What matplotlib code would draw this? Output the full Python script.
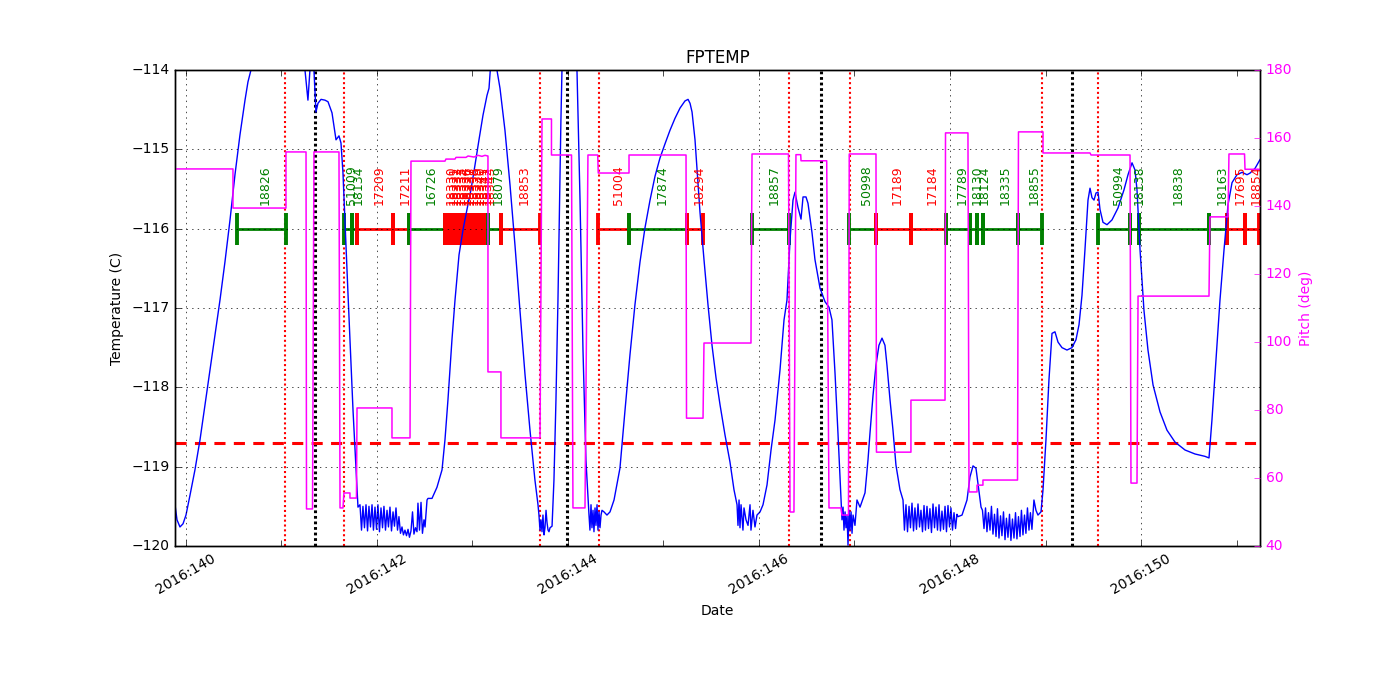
# plot.py
#
# FPTEMP model vs. time for 2016:140-151, with the pitch profile on a
# second axis and the observation schedule drawn as a bar of segments
# (green = nominal, red = flagged) with their obsids written above.

import matplotlib
matplotlib.use("Agg")
import matplotlib.pyplot as plt
import matplotlib.transforms as mtransforms
from matplotlib.ticker import FuncFormatter, MultipleLocator

plt.style.use("classic")
plt.rcParams["font.size"] = 10
plt.rcParams["font.family"] = ["DejaVu Sans"]

# --- FPTEMP (C) vs day of year 2016 in chunks --------------------------------
temp_first_pass = [
    (139.885, -119.48), (139.906, -119.67), (139.937, -119.76), (139.969, -119.72),
    (140.000, -119.61), (140.042, -119.36), (140.094, -119.04), (140.147, -118.66),
    (140.199, -118.22), (140.251, -117.78), (140.304, -117.34), (140.356, -116.90),
    (140.408, -116.42), (140.461, -115.89), (140.513, -115.32), (140.565, -114.82),
    (140.618, -114.38), (140.649, -114.15), (140.691, -113.95), (140.963, -113.37),
    (141.194, -113.62), (141.246, -114.00), (141.277, -114.38), (141.298, -114.00),
    (141.319, -113.75), (141.340, -114.00), (141.361, -114.53), (141.382, -114.42),
    (141.414, -114.37), (141.455, -114.38), (141.487, -114.40), (141.529, -114.54),
    (141.571, -114.88), (141.602, -114.83), (141.623, -114.92), (141.644, -115.30),
    (141.696, -116.81), (141.749, -118.29), (141.801, -119.51),
]
temp_cold_dwell_1 = [
    (141.822, -119.48), (141.838, -119.80), (141.853, -119.50), (141.869, -119.77),
    (141.885, -119.48), (141.901, -119.81), (141.916, -119.50), (141.932, -119.76),
    (141.948, -119.48), (141.963, -119.80), (141.979, -119.51), (141.995, -119.79),
    (142.010, -119.48), (142.026, -119.82), (142.042, -119.52), (142.058, -119.77),
    (142.073, -119.50), (142.089, -119.80), (142.105, -119.55), (142.120, -119.76),
    (142.136, -119.51), (142.152, -119.81), (142.168, -119.57), (142.183, -119.75),
    (142.199, -119.52), (142.215, -119.80), (142.230, -119.63), (142.246, -119.84),
    (142.262, -119.76), (142.277, -119.86), (142.293, -119.80), (142.309, -119.87),
    (142.325, -119.79), (142.340, -119.89), (142.356, -119.81), (142.372, -119.57),
    (142.387, -119.85), (142.403, -119.77), (142.419, -119.82), (142.429, -119.46),
    (142.445, -119.80), (142.461, -119.45), (142.476, -119.84), (142.492, -119.67),
    (142.503, -119.76), (142.524, -119.42), (142.534, -119.40), (142.576, -119.40),
    (142.628, -119.26), (142.681, -119.04),
]
temp_second_pass = [
    (142.712, -118.66), (142.743, -118.16), (142.785, -117.40), (142.817, -116.90),
    (142.859, -116.33), (142.900, -116.02), (142.942, -115.76), (142.984, -115.51),
    (143.026, -115.20), (143.068, -114.88), (143.110, -114.57), (143.152, -114.32),
    (143.173, -114.23), (143.194, -113.87), (143.225, -113.68), (143.256, -114.00),
    (143.288, -114.23), (143.340, -114.76), (143.393, -115.45), (143.445, -116.21),
    (143.497, -117.03), (143.550, -117.84), (143.602, -118.54), (143.654, -119.17),
    (143.686, -119.48),
]
temp_perigee_1 = [
    (143.696, -119.61), (143.707, -119.80), (143.717, -119.67), (143.728, -119.82),
    (143.738, -119.61), (143.749, -119.86), (143.759, -119.77), (143.770, -119.55),
    (143.780, -119.70), (143.791, -119.80), (143.801, -119.82), (143.812, -119.77),
    (143.833, -119.75), (143.853, -119.17), (143.874, -118.16), (143.895, -116.90),
    (143.916, -115.39), (143.926, -114.63), (143.937, -114.00), (143.969, -113.37),
    (144.021, -113.37), (144.073, -113.87), (144.094, -114.00), (144.126, -115.64),
    (144.157, -117.53), (144.188, -118.92), (144.220, -119.61),
]
temp_third_pass = [
    (144.230, -119.80), (144.241, -119.48), (144.251, -119.77), (144.262, -119.55),
    (144.272, -119.82), (144.283, -119.52), (144.293, -119.74), (144.304, -119.48),
    (144.314, -119.80), (144.325, -119.57), (144.335, -119.77), (144.346, -119.61),
    (144.356, -119.55), (144.377, -119.57), (144.408, -119.61), (144.440, -119.57),
    (144.482, -119.42), (144.544, -119.02), (144.597, -118.29), (144.649, -117.59),
    (144.701, -116.96), (144.754, -116.42), (144.806, -115.99), (144.859, -115.64),
    (144.911, -115.34), (144.963, -115.11), (145.016, -114.93), (145.068, -114.76),
    (145.120, -114.61), (145.173, -114.48), (145.225, -114.39), (145.257, -114.37),
    (145.278, -114.42), (145.299, -114.53), (145.330, -114.88), (145.362, -115.45),
    (145.382, -115.79), (145.424, -116.39), (145.466, -116.96), (145.508, -117.47),
    (145.550, -117.88), (145.592, -118.22), (145.644, -118.60), (145.696, -118.94),
    (145.738, -119.29), (145.770, -119.48),
]
temp_perigee_2 = [
    (145.780, -119.74), (145.791, -119.42), (145.801, -119.77), (145.812, -119.48),
    (145.832, -119.80), (145.843, -119.52), (145.864, -119.67), (145.885, -119.74),
    (145.906, -119.48), (145.916, -119.80), (145.937, -119.55), (145.958, -119.76),
    (145.979, -119.61), (146.011, -119.57), (146.042, -119.48), (146.084, -119.23),
    (146.126, -118.79), (146.168, -118.41), (146.220, -117.78), (146.262, -117.15),
    (146.293, -116.90), (146.325, -116.14), (146.356, -115.64), (146.377, -115.54),
    (146.408, -115.73), (146.440, -115.88), (146.461, -115.60), (146.492, -115.60),
    (146.513, -115.68), (146.555, -116.05), (146.586, -116.39), (146.639, -116.75),
    (146.691, -116.92), (146.733, -116.99), (146.764, -117.15), (146.796, -117.82),
    (146.827, -118.58), (146.859, -119.42),
]
temp_fourth_pass = [
    (146.869, -119.67), (146.880, -119.51), (146.890, -119.80), (146.901, -119.57),
    (146.911, -119.77), (146.922, -119.61), (146.932, -119.99), (146.943, -119.55),
    (146.953, -119.80), (146.964, -119.57), (146.974, -119.84), (146.985, -119.61),
    (147.005, -119.74), (147.026, -119.42), (147.058, -119.51), (147.110, -119.33),
    (147.141, -118.92), (147.162, -118.58), (147.194, -118.10), (147.225, -117.72),
    (147.256, -117.47), (147.288, -117.38), (147.319, -117.47), (147.340, -117.72),
    (147.372, -118.16), (147.403, -118.54), (147.434, -118.98), (147.476, -119.29),
    (147.508, -119.42),
]
temp_cold_dwell_2 = [
    (147.523, -119.80), (147.539, -119.48), (147.555, -119.82), (147.571, -119.50),
    (147.586, -119.77), (147.602, -119.46), (147.618, -119.81), (147.633, -119.52),
    (147.649, -119.79), (147.665, -119.47), (147.681, -119.76), (147.696, -119.55),
    (147.712, -119.82), (147.728, -119.49), (147.743, -119.80), (147.759, -119.50),
    (147.775, -119.78), (147.790, -119.53), (147.806, -119.83), (147.822, -119.47),
    (147.838, -119.77), (147.853, -119.51), (147.869, -119.80), (147.885, -119.48),
    (147.900, -119.81), (147.916, -119.56), (147.932, -119.79), (147.948, -119.50),
    (147.963, -119.82), (147.979, -119.49), (147.995, -119.76), (148.010, -119.52),
    (148.026, -119.80), (148.042, -119.58), (148.058, -119.78), (148.073, -119.60),
    (148.084, -119.63), (148.126, -119.61), (148.178, -119.42), (148.209, -119.13),
    (148.241, -118.99), (148.272, -119.02), (148.293, -119.21), (148.325, -119.51),
]
temp_cold_dwell_3 = [
    (148.340, -119.55), (148.356, -119.78), (148.372, -119.52), (148.387, -119.82),
    (148.403, -119.58), (148.419, -119.80), (148.434, -119.50), (148.450, -119.85),
    (148.466, -119.60), (148.482, -119.88), (148.497, -119.53), (148.513, -119.90),
    (148.529, -119.62), (148.544, -119.87), (148.560, -119.57), (148.576, -119.92),
    (148.591, -119.65), (148.607, -119.89), (148.623, -119.60), (148.638, -119.93),
    (148.654, -119.66), (148.670, -119.90), (148.686, -119.58), (148.701, -119.91),
    (148.717, -119.63), (148.733, -119.88), (148.748, -119.55), (148.764, -119.86),
    (148.780, -119.61), (148.795, -119.84), (148.811, -119.52), (148.827, -119.80),
    (148.842, -119.58), (148.858, -119.79),
]
temp_last_pass = [
    (148.879, -119.42), (148.900, -119.55), (148.921, -119.61), (148.953, -119.57),
    (148.974, -119.29), (149.005, -118.66), (149.036, -117.91), (149.068, -117.32),
    (149.099, -117.30), (149.131, -117.43), (149.173, -117.50), (149.225, -117.53),
    (149.277, -117.50), (149.319, -117.40), (149.351, -117.21), (149.382, -116.84),
    (149.413, -116.27), (149.445, -115.64), (149.466, -115.49), (149.487, -115.61),
    (149.508, -115.64), (149.529, -115.55), (149.550, -115.54), (149.571, -115.76),
    (149.602, -115.92), (149.644, -115.95), (149.696, -115.89), (149.759, -115.74),
    (149.822, -115.51), (149.864, -115.32), (149.906, -115.17), (149.937, -115.26),
    (149.958, -115.51), (149.990, -116.27), (150.031, -117.03), (150.073, -117.53),
    (150.126, -117.97), (150.199, -118.31), (150.272, -118.54), (150.356, -118.69),
    (150.461, -118.79), (150.565, -118.84), (150.670, -118.87), (150.712, -118.89),
    (150.743, -118.41), (150.785, -117.66), (150.827, -116.90), (150.869, -116.27),
    (150.911, -115.70), (150.953, -115.42), (151.005, -115.32), (151.058, -115.29),
    (151.110, -115.32), (151.141, -115.30), (151.194, -115.24), (151.246, -115.13),
]

# --- Pitch (deg) step profile ------------------------------------------------
pitch_profile = [
    (139.885, 150.9), (140.492, 150.9), (140.492, 139.4), (141.047, 139.4),
    (141.047, 155.9), (141.257, 155.9), (141.262, 50.9), (141.325, 50.9),
    (141.340, 155.9), (141.602, 155.9), (141.613, 51.2), (141.644, 51.2),
    (141.654, 55.6), (141.717, 55.6), (141.717, 54.1), (141.785, 54.1),
    (141.791, 80.6), (142.157, 80.6), (142.157, 71.8), (142.346, 71.8),
    (142.356, 153.2), (142.712, 153.2), (142.722, 153.8), (142.817, 153.8),
    (142.827, 154.3), (142.932, 154.3), (142.953, 154.7), (143.016, 154.4),
    (143.058, 154.9), (143.099, 154.6), (143.131, 154.9), (143.162, 154.7),
    (143.162, 91.2), (143.298, 91.2), (143.298, 71.8), (143.707, 71.8),
    (143.728, 165.6), (143.827, 165.6), (143.827, 155.0), (144.037, 155.0),
    (144.052, 51.2), (144.178, 51.2), (144.209, 155.0), (144.311, 155.0),
    (144.317, 149.7), (144.639, 149.7), (144.639, 155.0), (145.236, 155.0),
    (145.241, 77.6), (145.414, 77.6), (145.424, 99.7), (145.916, 99.7),
    (145.927, 155.3), (146.309, 155.3), (146.325, 50.0), (146.366, 50.0),
    (146.387, 155.1), (146.437, 155.1), (146.440, 153.3), (146.709, 153.3),
    (146.733, 51.2), (146.859, 51.2), (146.869, 49.1), (146.937, 49.1),
    (146.945, 155.3), (147.225, 155.3), (147.230, 67.6), (147.591, 67.6),
    (147.591, 82.9), (147.948, 82.9), (147.953, 161.5), (148.188, 161.5),
    (148.199, 55.9), (148.283, 55.9), (148.283, 57.9), (148.345, 57.9),
    (148.345, 59.4), (148.707, 59.4), (148.717, 161.8), (148.974, 161.8),
    (148.974, 155.6), (149.466, 155.6), (149.477, 155.0), (149.885, 155.0),
    (149.895, 58.5), (149.958, 58.5), (149.969, 113.5), (150.712, 113.5),
    (150.722, 136.8), (150.911, 136.8), (150.921, 155.3), (151.084, 155.3),
    (151.089, 150.8), (151.246, 150.8),
]

# --- Observation schedule -----------------------------------------------------
obs_start = [140.531, 141.654, 141.735, 141.791, 142.164, 142.340,
             142.712, 142.747, 142.781, 142.816, 142.850, 142.885, 142.919,
             142.954, 142.988, 143.023, 143.058, 143.092, 143.127,
             143.162, 143.298, 144.319, 144.642, 145.241, 145.924, 146.946,
             147.222, 147.592, 147.953, 148.209, 148.279, 148.349, 148.715,
             149.553, 149.885, 149.982, 150.715, 150.904, 151.089]
obs_stop = [141.044, 141.735, 141.791, 142.164, 142.340, 142.712,
            142.747, 142.781, 142.816, 142.850, 142.885, 142.919, 142.954,
            142.988, 143.023, 143.058, 143.092, 143.127, 143.162,
            143.298, 143.707, 144.642, 145.241, 145.417, 146.311, 147.222,
            147.592, 147.953, 148.209, 148.279, 148.349, 148.715, 148.960,
            149.885, 149.982, 150.715, 150.904, 151.089, 151.240]
obs_ids = [18826, 51009, 18134, 17209, 17211, 16726,
           18330, 18331, 18332, 18333, 18334, 18336, 18337,
           18338, 18339, 18340, 18341, 18342, 18343,
           18079, 18853, 51004, 17874, 18294, 18857, 50998,
           17189, 17184, 17789, 18130, 18124, 18335, 18855,
           50994, 18138, 18838, 18163, 17695, 18854]
obs_flagged = [False, False, False, True, True, False,
               True, True, True, True, True, True, True,
               True, True, True, True, True, True,
               False, True, True, False, True, False, False,
               True, True, False, False, False, False, False,
               False, False, False, False, True, True]

attitude_changes = [141.037, 141.654, 143.707, 144.325, 146.314, 146.948,
                    148.963, 149.550]
perigees = [141.351, 143.993, 146.646, 149.277]

schedule_level = -116.0
planning_limit = -118.7

temp = (temp_first_pass + temp_cold_dwell_1 + temp_second_pass + temp_perigee_1
        + temp_third_pass + temp_perigee_2 + temp_fourth_pass
        + temp_cold_dwell_2 + temp_cold_dwell_3 + temp_last_pass)
temp_days, temp_vals = zip(*temp)
pitch_days, pitch_vals = zip(*pitch_profile)

fig = plt.figure(figsize=(14, 7), dpi=100)
ax = fig.add_axes([0.125, 0.22, 0.775, 0.68])

for d in attitude_changes:
    ax.axvline(d, color="r", ls=(0, (1.5, 2)), lw=1.5)
for d in perigees:
    ax.axvline(d, color="k", ls=(0, (2, 2)), lw=2.2)

ax.axhline(planning_limit, color="r", ls=(0, (8, 6)), lw=2.2)

label_tf = mtransforms.offset_copy(ax.transData, fig=fig, x=3, y=17, units="points")
for start, stop, obsid, flagged in zip(obs_start, obs_stop, obs_ids, obs_flagged):
    c = "r" if flagged else "g"
    ax.plot([start, stop], [schedule_level, schedule_level], color=c, lw=2,
            marker="|", ms=23, mew=2.8)
    ax.text((start + stop) / 2, schedule_level, str(obsid), transform=label_tf,
            rotation=90, ha="center", va="bottom", color=c, fontsize=9,
            clip_on=True)

ax.plot(temp_days, temp_vals, color="b", lw=1)

ax.set_xlim(139.885, 151.246)
ax.set_ylim(-120, -114)
ax.xaxis.set_major_locator(MultipleLocator(2))
ax.xaxis.set_minor_locator(MultipleLocator(1))
ax.xaxis.set_major_formatter(FuncFormatter(lambda v, pos: "2016:%03d" % round(v)))
ax.yaxis.set_major_locator(MultipleLocator(1))
ax.tick_params(axis="x", which="minor", length=4)
ax.grid(True, which="major")
plt.setp(ax.get_xticklabels(), rotation=30, ha="center")
ax.set_xlabel("Date")
ax.set_ylabel("Temperature (C)")
ax.set_title("FPTEMP")

ax2 = ax.twinx()
ax2.plot(pitch_days, pitch_vals, color="#ff00ff", lw=1.1)
ax2.set_xlim(139.885, 151.246)
ax2.set_ylim(40, 180)
ax2.yaxis.set_major_locator(MultipleLocator(20))
ax2.tick_params(axis="y", colors="#ff00ff")
ax2.set_ylabel("Pitch (deg)", color="#ff00ff")

fig.savefig("out.png", dpi=100, facecolor="white")
